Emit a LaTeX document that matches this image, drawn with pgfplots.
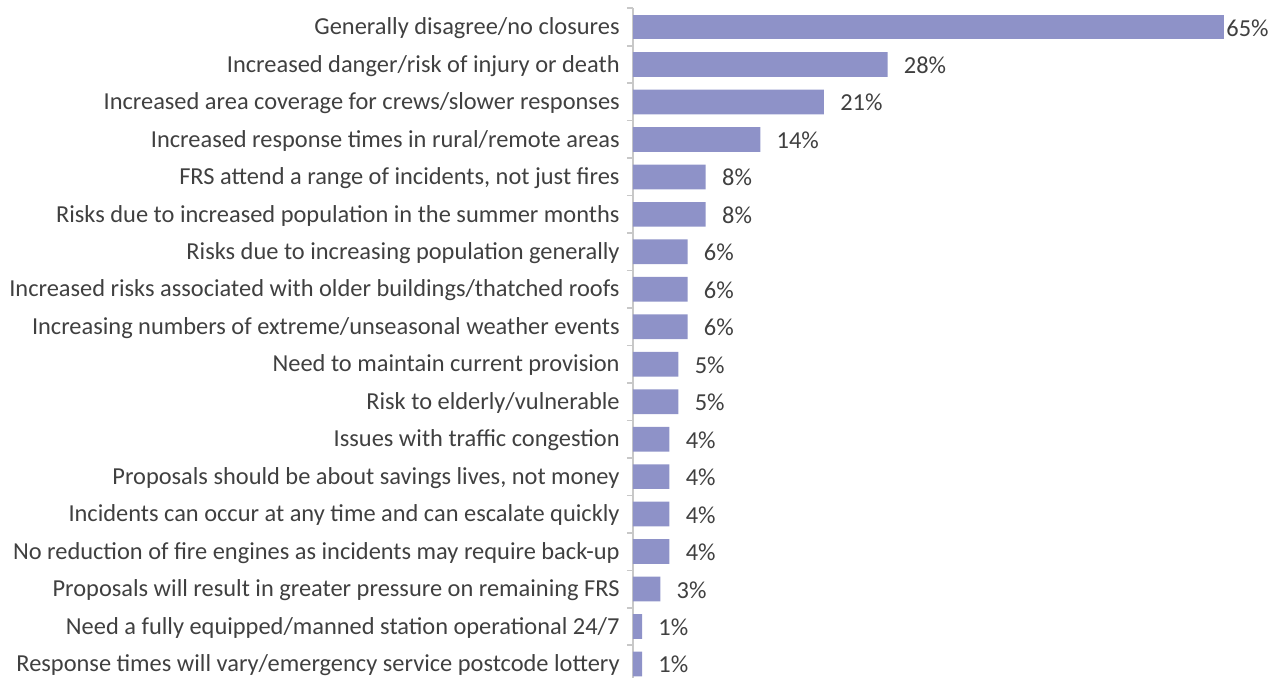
\documentclass[border=0pt]{standalone}
\usepackage{pgfplots}
\pgfplotsset{compat=1.18}
\usepackage{fontspec}
\setmainfont{Carlito}
\definecolor{barcol}{RGB}{142,146,200}
\definecolor{axcol}{RGB}{200,200,200}
\definecolor{txt}{RGB}{64,64,64}

\begin{document}
\begin{tikzpicture}
\useasboundingbox (-316.5pt,2.6pt) rectangle (325.5pt,341.35pt);
\begin{axis}[
  at={(0,0)}, anchor=south west,
  scale only axis,
  width=295.5pt, height=337.2pt,
  xbar, bar shift=0pt, bar width=0.66,
  xmin=0, xmax=65,
  ymin=-0.5, ymax=17.5,
  y dir=reverse,
  axis x line=none,
  axis y line*=left,
  y axis line style={draw=axcol, line width=0.8pt},
  ytick={0,...,17},
  yticklabels={
    Generally disagree/no closures,
    Increased danger/risk of injury or death,
    Increased area coverage for crews/slower responses,
    Increased response times in rural/remote areas,
    {FRS attend a range of incidents, not just fires},
    Risks due to increased population in the summer months,
    Risks due to increasing population generally,
    Increased risks associated with older buildings/thatched roofs,
    Increasing numbers of extreme/unseasonal weather events,
    Need to maintain current provision,
    Risk to elderly/vulnerable,
    Issues with traffic congestion,
    {Proposals should be about savings lives, not money},
    Incidents can occur at any time and can escalate quickly,
    No reduction of fire engines as incidents may require back-up,
    Proposals will result in greater pressure on remaining FRS,
    Need a fully equipped/manned station operational 24/7,
    Response times will vary/emergency service postcode lottery},
  major tick length=0pt,
  minor ytick={-0.5,0.5,...,17.5},
  minor tick length=3pt,
  tick align=outside,
  minor tick style={draw=axcol, line width=0.8pt},
  yticklabel style={font=\fontsize{12.2}{14}\selectfont, text=txt, inner sep=0pt, xshift=-6.5pt, yshift=-0.6pt},
  nodes near coords={\pgfmathprintnumber{\pgfplotspointmeta}\%},
  every node near coord/.append style={font=\fontsize{12.2}{14}\selectfont, text=txt, anchor=west, inner sep=0pt, xshift=8pt, yshift=-0.4pt},
  /pgf/number format/assume math mode=true,
  clip=false,
]
% the longest bar keeps its label tight against the bar end
\addplot[fill=barcol, draw=none,
  every node near coord/.append style={xshift=-7pt}]
  coordinates {(65,0)};
\addplot[fill=barcol, draw=none] coordinates {
  (28,1) (21,2) (14,3) (8,4) (8,5) (6,6) (6,7) (6,8) (5,9)
  (5,10) (4,11) (4,12) (4,13) (4,14) (3,15) (1,16) (1,17)
};
\end{axis}
\end{tikzpicture}
\end{document}
